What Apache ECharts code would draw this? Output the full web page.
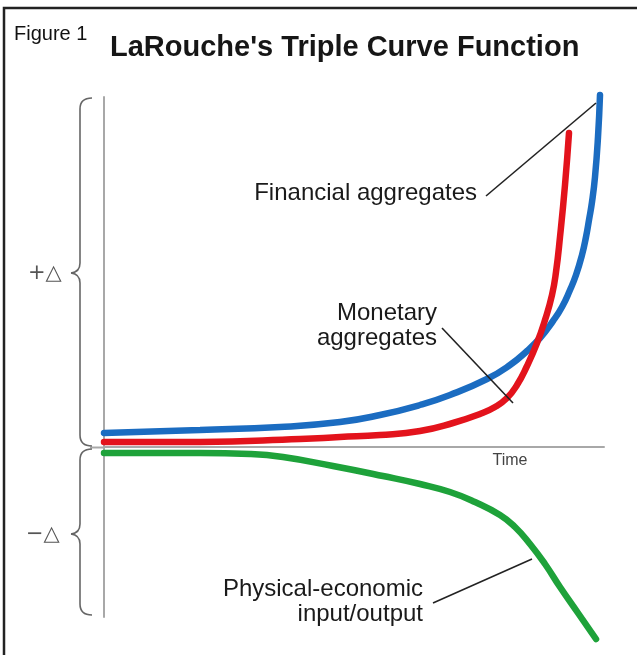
<!DOCTYPE html>
<html>
<head>
<meta charset="utf-8">
<script src="https://cdn.jsdelivr.net/npm/echarts@6/dist/echarts.min.js"></script>
<style>
  html, body { margin: 0; padding: 0; background: #fff; }
  #chart { width: 637px; height: 655px; }
</style>
</head>
<body>
<div id="chart"></div>
<script>
'use strict';

// time runs 0..500, values are "delta" above / below the zero line
var financialX = [0, 96, 176, 236, 276, 316, 346, 383, 406, 423, 436, 449, 458, 466, 472, 478, 482, 485, 488, 491, 494, 496],
    financialY = [14, 17, 20, 25, 32, 42, 52, 68, 82, 96, 109, 126, 140, 157, 172, 192, 210, 227, 245, 270, 310, 352];

var monetaryX = [0, 96, 196, 236, 276, 316, 349, 376, 391, 403, 413, 423, 433, 441, 448, 452, 456, 461, 465],
    monetaryY = [5, 5, 8, 10, 12, 16, 24, 33, 40, 49, 62, 81, 104, 127, 152, 175, 210, 262, 314];

var physicalX = [0, 96, 146, 179, 229, 279, 316, 346, 371, 396, 411, 426, 441, 456, 474, 492],
    physicalY = [-6, -6, -7, -10, -19, -29, -37, -45, -55, -68, -80, -97, -117, -140, -166, -192];

function pairs(xs, ys) {
    return xs.map(function (x, i) { return [x, ys[i]]; });
}

var chart = echarts.init(document.getElementById('chart'));

var font = '"Liberation Sans", Arial, sans-serif';

function curve(name, color, xs, ys) {
    return {
        name: name,
        type: 'line',
        data: pairs(xs, ys),
        symbol: 'none',
        smooth: 0.5,
        clip: false,
        silent: true,
        lineStyle: { color: color, width: 6.5, cap: 'round', join: 'round' }
    };
}

// curly brace from y0 to y1, pointing left at tip
function brace(y0, y1, tip) {
    var st = { stroke: '#666', lineWidth: 1.6, fill: null };
    function q(x1, y1_, cx, cy, x2, y2) {
        return { type: 'bezierCurve', z: 100, shape: { x1: x1, y1: y1_, x2: x2, y2: y2, cpx1: cx, cpy1: cy }, style: st };
    }
    function l(x1, y1_, x2, y2) {
        return { type: 'line', z: 100, shape: { x1: x1, y1: y1_, x2: x2, y2: y2 }, style: st };
    }
    return [
        q(92, y0, 80, y0, 80, y0 + 11),
        l(80, y0 + 11, 80, tip - 10),
        q(80, tip - 10, 80, tip - 1, 71, tip),
        q(71, tip, 80, tip + 1, 80, tip + 10),
        l(80, tip + 10, 80, y1 - 11),
        q(80, y1 - 11, 80, y1, 92, y1)
    ];
}

var graphics = [
    // frame
    { type: 'polyline', z: 100, shape: { points: [[4, 655], [4, 8], [637, 8]] },
      style: { stroke: '#222', lineWidth: 2.5, fill: null } },
    { type: 'text', z: 100, x: 14, y: 34,
      style: { text: 'Figure 1', font: '20px ' + font, fill: '#111', verticalAlign: 'middle' } },
    { type: 'text', z: 100, x: 110, y: 48,
      style: { text: "LaRouche's Triple Curve Function", font: 'bold 29px ' + font, fill: '#161616', verticalAlign: 'middle' } },
    { type: 'line', z: 100, shape: { x1: 90, y1: 447.5, x2: 104, y2: 447.5 },
      style: { stroke: '#a8a8a8', lineWidth: 2 } },
    { type: 'text', z: 100, x: 28, y: 274,
      style: { text: '+△', font: '21px "DejaVu Sans", sans-serif', fill: '#555', verticalAlign: 'middle' } },
    { type: 'text', z: 100, x: 26, y: 535,
      style: { text: '−△', font: '21px "DejaVu Sans", sans-serif', fill: '#555', verticalAlign: 'middle' } },
    { type: 'text', z: 100, x: 510, y: 461,
      style: { text: 'Time', font: '16px ' + font, fill: '#444', align: 'center', verticalAlign: 'middle' } },
    // annotations
    { type: 'text', z: 100, x: 477, y: 193,
      style: { text: 'Financial aggregates', font: '24px ' + font, fill: '#1a1a1a', align: 'right', verticalAlign: 'middle' } },
    { type: 'line', z: 100, shape: { x1: 486, y1: 196, x2: 596, y2: 103 },
      style: { stroke: '#222', lineWidth: 1.6 } },
    { type: 'text', z: 100, x: 437, y: 326,
      style: { text: 'Monetary\naggregates', font: '24px ' + font, lineHeight: 25, fill: '#1a1a1a', align: 'right', verticalAlign: 'middle' } },
    { type: 'line', z: 100, shape: { x1: 442, y1: 328, x2: 513, y2: 403 },
      style: { stroke: '#222', lineWidth: 1.6 } },
    { type: 'text', z: 100, x: 423, y: 602,
      style: { text: 'Physical-economic\ninput/output', font: '24px ' + font, lineHeight: 25, fill: '#1a1a1a', align: 'right', verticalAlign: 'middle' } },
    { type: 'line', z: 100, shape: { x1: 433, y1: 603, x2: 532, y2: 559 },
      style: { stroke: '#222', lineWidth: 1.6 } }
].concat(brace(98, 446, 273), brace(449, 615, 534));

var option = {
    backgroundColor: '#fff',
    animation: false,
    grid: { left: 104, right: 33, top: 97, bottom: 38 },
    xAxis: {
        type: 'value',
        min: 0,
        max: 500,
        axisLine: { show: true, onZero: true, lineStyle: { color: '#a8a8a8', width: 2 } },
        axisTick: { show: false },
        axisLabel: { show: false },
        splitLine: { show: false }
    },
    yAxis: {
        type: 'value',
        min: -170,
        max: 350,
        axisLine: { show: true, lineStyle: { color: '#a8a8a8', width: 2 } },
        axisTick: { show: false },
        axisLabel: { show: false },
        splitLine: { show: false }
    },
    series: [
        curve('Financial aggregates', '#1b6cc1', financialX, financialY),
        curve('Monetary aggregates', '#e3131c', monetaryX, monetaryY),
        curve('Physical-economic input/output', '#1ea23a', physicalX, physicalY)
    ],
    graphic: graphics
};

chart.setOption(option);
</script>
</body>
</html>
